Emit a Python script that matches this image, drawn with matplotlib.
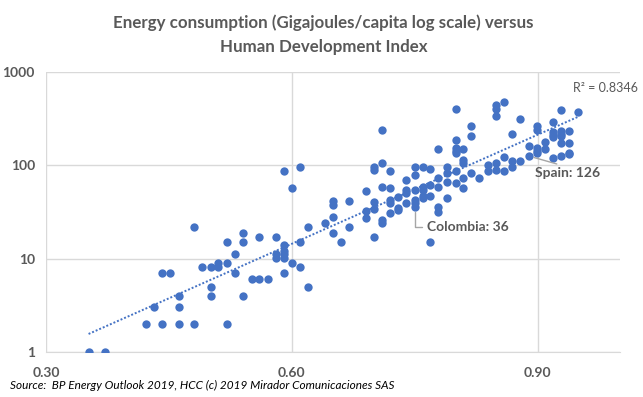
import numpy as np
import matplotlib
matplotlib.use("Agg")
import matplotlib.pyplot as plt
from matplotlib.ticker import FixedLocator, NullLocator

plt.rcParams['font.family'] = ['Lato', 'DejaVu Sans']

# HDI (x) and energy use in GJ per capita (y)
hdi = [0.352, 0.372,
       0.422, 0.441, 0.462, 0.481, 0.521,
       0.432, 0.462,
       0.462, 0.501, 0.541,
       0.501,
       0.441, 0.451,
       0.481,
       0.491, 0.501, 0.510,
       0.510, 0.521,
       0.531, 0.531,
       0.521, 0.541, 0.541,
       0.551, 0.560, 0.571,
       0.560, 0.581,
       0.581, 0.581,
       0.591, 0.591, 0.591, 0.591, 0.591,
       0.600, 0.600, 0.591,
       0.610, 0.610, 0.610,
       0.620, 0.620,
       0.640,
       0.650, 0.650, 0.650, 0.650,
       0.660,
       0.670, 0.670,
       0.691, 0.691, 0.691,
       0.700, 0.700, 0.700, 0.700, 0.700,
       0.710, 0.710, 0.710, 0.710, 0.710,
       0.720, 0.720, 0.720, 0.720, 0.720,
       0.730, 0.730, 0.730,
       0.740, 0.740, 0.740, 0.740,
       0.750, 0.750, 0.750, 0.750, 0.750, 0.750,
       0.760, 0.760, 0.760, 0.760, 0.760,
       0.769, 0.769, 0.769, 0.769,
       0.779, 0.779, 0.779, 0.779, 0.779,
       0.790, 0.790, 0.790, 0.790,
       0.800, 0.800, 0.800, 0.800, 0.800, 0.800, 0.800,
       0.809, 0.809, 0.809, 0.809, 0.809,
       0.819, 0.819, 0.819,
       0.829,
       0.840, 0.840,
       0.849, 0.849, 0.849, 0.849, 0.849,
       0.859, 0.859, 0.859,
       0.869, 0.869, 0.869,
       0.878, 0.878,
       0.889, 0.889,
       0.899, 0.899, 0.899, 0.899, 0.899,
       0.909, 0.909,
       0.919, 0.919, 0.919, 0.919, 0.919,
       0.928, 0.928, 0.928, 0.928, 0.928, 0.928,
       0.938, 0.938, 0.938, 0.938,
       0.949]

energy = [1, 1,
          2, 2, 2, 2, 2,
          3, 3,
          4, 4, 4,
          5,
          7, 7,
          22,
          8.1, 8.1, 8.1,
          8.9, 8.9,
          7, 11.1,
          15, 15, 19,
          6, 6, 6,
          17, 17,
          11.1, 10.1,
          13.9, 12.1, 11.1, 10.1, 7,
          8.9, 56.6, 86,
          95, 15, 8.1,
          5, 22,
          24,
          41, 38, 27.7, 19,
          15,
          41, 22,
          52.5, 32.6, 27.6,
          95, 89, 40, 34, 16.9,
          242, 107, 59, 26, 24.4,
          86, 56.5, 43, 39, 31,
          46, 35, 33,
          69, 55, 50, 39,
          95, 79, 54, 43, 39, 36,
          96, 59, 55, 47.5, 45,
          92, 61, 47.5, 15,
          148, 74, 59, 36, 32,
          95, 82, 65.5, 45,
          406, 189, 155, 144, 134, 86, 64,
          151, 115, 106, 74, 56.5,
          261, 204, 82,
          74,
          100, 88,
          448, 406, 342, 107, 90,
          482, 124, 86,
          219, 110, 97,
          310, 110,
          163, 126,
          267, 242, 155, 144, 134,
          180, 151,
          288, 230, 209, 199, 121,
          396, 236, 219, 204, 175, 127,
          236, 175, 137, 131,
          377]

# exponential trendline, ends
trend_x = [0.352, 0.949]
trend_y = [1.56, 330]

x_ticks = [0.30, 0.60, 0.90]
y_ticks = [1, 10, 100, 1000]

blue = '#4472C4'
grey_txt = '#595959'
grid_c = '#D9D9D9'

fig = plt.figure(figsize=(6.43, 3.97), dpi=100)
ax = fig.add_axes([0.0715, 0.1134, 0.892, 0.7052])

ax.scatter(hdi, energy, s=36, color=blue, zorder=3, linewidths=0)
ax.plot(trend_x, trend_y, linestyle=(0, (1, 1)), color=blue,
        linewidth=1.4, zorder=2)

ax.set_yscale('log')
ax.set_xlim(0.30, 1.00)
ax.set_ylim(1, 1000)
ax.xaxis.set_major_locator(FixedLocator(x_ticks))
ax.yaxis.set_major_locator(FixedLocator(y_ticks))
ax.yaxis.set_minor_locator(NullLocator())
ax.set_xticklabels(['%.2f' % v for v in x_ticks])
ax.set_yticklabels([str(v) for v in y_ticks])
ax.tick_params(length=0, labelsize=10, labelcolor=grey_txt)
ax.tick_params(axis='x', pad=11)
ax.tick_params(axis='y', pad=8)
for lab in ax.get_xticklabels() + ax.get_yticklabels():
    lab.set_fontweight('bold')

ax.grid(True, color=grid_c, linewidth=1)
ax.set_axisbelow(True)
for side in ['top', 'right', 'left']:
    ax.spines[side].set_visible(False)
ax.spines['bottom'].set_color(grid_c)

fig.text(0.503, 0.912, 'Energy consumption (Gigajoules/capita log scale) versus\nHuman Development Index',
         ha='center', va='center', fontsize=12.2, fontweight='bold', color=grey_txt,
         linespacing=1.6)

ax.text(0.943, 671, 'R² = 0.8346', fontsize=9, color=grey_txt, va='center', ha='left')

arrow = dict(arrowstyle='-', color='#A6A6A6', linewidth=1, shrinkA=1, shrinkB=4)
ax.annotate('Colombia: 36', xy=(0.750, 36), xytext=(0.7646, 21.8),
            ha='left', va='center', fontsize=10, fontweight='bold', color=grey_txt,
            arrowprops=dict(arrow, connectionstyle='angle,angleA=0,angleB=90,rad=0',
                            relpos=(0, 0.5)))
ax.annotate('Spain: 126', xy=(0.889, 126), xytext=(0.937, 82.5),
            ha='center', va='center', fontsize=10, fontweight='bold', color=grey_txt,
            arrowprops=dict(arrow, relpos=(0.5, 1.0)))

fig.text(0.015, 0.03, 'Source:  BP Energy Outlook 2019, HCC (c) 2019 Mirador Comunicaciones SAS',
         ha='left', va='center', fontsize=8.5, style='italic', color='black')

fig.savefig('out.png', dpi=100)
